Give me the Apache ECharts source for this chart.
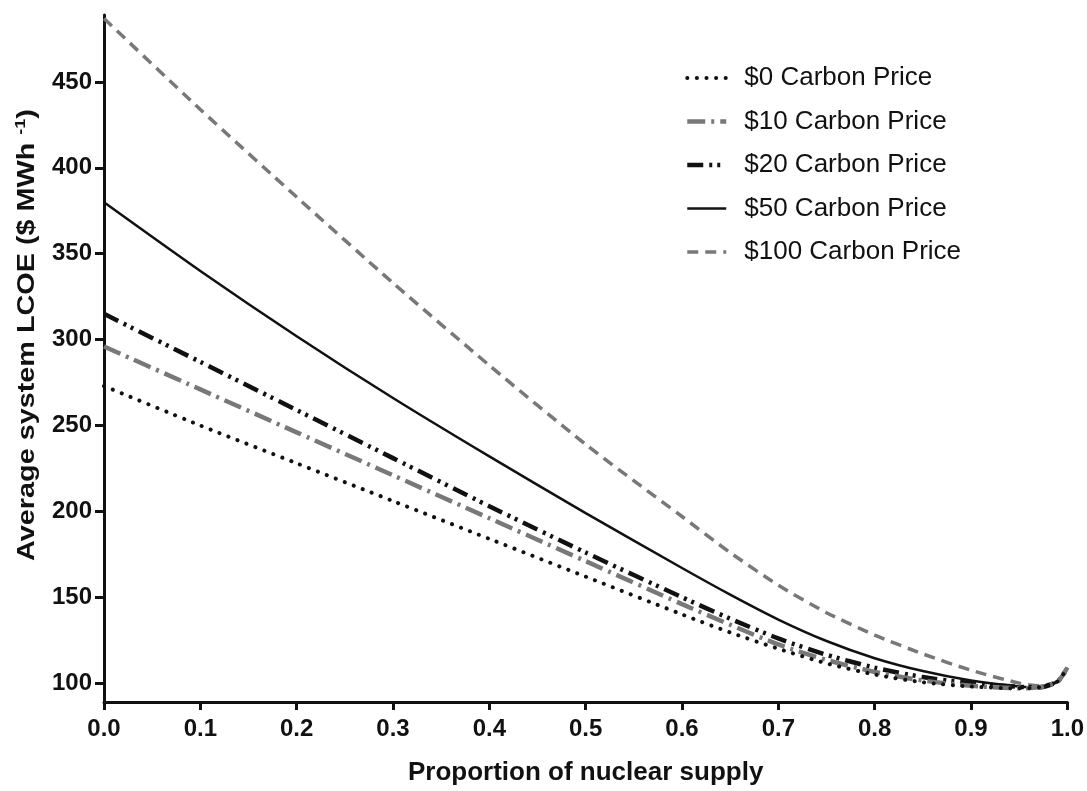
<!DOCTYPE html>
<html>
<head>
<meta charset="utf-8">
<script src="https://cdn.jsdelivr.net/npm/echarts@6/dist/echarts.min.js"></script>
<style>
  html, body { margin: 0; padding: 0; background: #ffffff; }
  #chart { width: 1087px; height: 791px; }
</style>
</head>
<body>
<div id="chart"></div>
<script>
// Proportion of nuclear supply (x) and average system LCOE for each carbon price
const nuclearShare = [0, 0.1, 0.2, 0.3, 0.4, 0.5, 0.6, 0.65, 0.7, 0.75, 0.8, 0.85, 0.9, 0.95, 0.97, 0.99, 1.0];
const carbon0   = [273, 250, 228, 206, 184, 162, 140, 129.5, 120, 111.5, 105, 100.5, 98, 97, 97.5, 101, 109];
const carbon10  = [296, 271, 246, 221, 196, 171, 146, 134, 122.5, 113.5, 106.5, 101.5, 98.5, 97, 97.5, 101, 109];
const carbon20  = [315, 287, 259, 231, 203, 176, 150, 137.5, 126, 116.5, 109, 103.5, 100, 97.8, 97.5, 101, 109];
const carbon50  = [380, 340, 302, 266, 232, 199, 167, 151.5, 137, 124.5, 114.5, 107, 101.5, 98, 97.5, 101, 109];
const carbon100 = [487, 434, 383, 333, 285, 239, 197, 176, 157, 141, 128, 117, 107.5, 100, 98.5, 101, 109];
const seriesNames = ['$0 Carbon Price', '$10 Carbon Price', '$20 Carbon Price', '$50 Carbon Price', '$100 Carbon Price'];
const yTicks = [100, 150, 200, 250, 300, 350, 400, 450];

const FONT = "'Liberation Sans', Arial, sans-serif";
const INK = '#111111';
const GREY = '#787878';

function pairs(values) {
  return nuclearShare.map((x, i) => [x, values[i]]);
}

const lineStyles = [
  { color: INK,  width: 4,   type: [0.1, 9.5], cap: 'round' },
  { color: GREY, width: 4.5, type: [18, 6, 3, 6], cap: 'butt' },
  { color: INK,  width: 4.5, type: [16, 6, 3, 5, 3, 6], cap: 'butt' },
  { color: INK,  width: 2.5, type: 'solid' },
  { color: GREY, width: 3.5, type: [11, 7], cap: 'butt' }
];
const seriesValues = [carbon0, carbon10, carbon20, carbon50, carbon100];

const chart = echarts.init(document.getElementById('chart'), null, { renderer: 'canvas' });

chart.setOption({
  backgroundColor: '#ffffff',
  animation: false,
  grid: { left: 104, right: 19, top: 15, bottom: 89, containLabel: false },
  legend: {
    orient: 'vertical',
    left: 685,
    top: 63,
    padding: 0,
    itemWidth: 39,
    itemHeight: 14,
    itemGap: 13.5,
    itemStyle: { opacity: 0 },
    textStyle: { fontFamily: FONT, fontSize: 26, color: INK, lineHeight: 30, padding: [0, 0, 0, 13] },
    // legend keys drawn with the same stroke weight as their curves
    data: seriesNames.map((name, i) => ({
      name: name,
      lineStyle: { width: lineStyles[i].width }
    }))
  },
  xAxis: {
    type: 'value',
    min: 0,
    max: 1,
    interval: 0.1,
    name: 'Proportion of nuclear supply',
    nameLocation: 'middle',
    nameGap: 58,
    nameTextStyle: { fontFamily: FONT, fontSize: 26, fontWeight: 'bold', color: INK },
    axisLine: { show: true, onZero: false, lineStyle: { color: INK, width: 3 } },
    axisTick: { show: true, inside: false, length: 8, lineStyle: { color: INK, width: 3 } },
    axisLabel: {
      fontFamily: FONT, fontSize: 24, fontWeight: 'bold', color: INK, margin: 15,
      showMinLabel: true, showMaxLabel: true,
      formatter: v => v.toFixed(1)
    },
    splitLine: { show: false }
  },
  yAxis: {
    type: 'value',
    min: 89,
    max: 489,
    axisLine: { show: true, onZero: false, lineStyle: { color: INK, width: 3 } },
    axisTick: { show: true, inside: false, length: 9, customValues: yTicks, lineStyle: { color: INK, width: 3 } },
    axisLabel: {
      fontFamily: FONT, fontSize: 24, fontWeight: 'bold', color: INK, margin: 12,
      customValues: yTicks
    },
    splitLine: { show: false }
  },
  graphic: [{
    type: 'text',
    x: 27,
    y: 335,
    rotation: Math.PI / 2,
    scaleX: 1.2,
    style: {
      text: 'Average system LCOE ($ MWh {sup|-1})',
      font: "bold 24px 'Liberation Sans', Arial, sans-serif",
      fill: INK,
      align: 'center',
      verticalAlign: 'middle',
      rich: {
        sup: { fontSize: 15, fontWeight: 'bold', fontFamily: FONT, fill: INK, verticalAlign: 'top', lineHeight: 28, padding: [0, 0, 12, 0] }
      }
    }
  }],
  series: seriesNames.map((name, i) => ({
    name: name,
    type: 'line',
    data: pairs(seriesValues[i]),
    smooth: 0.25,
    showSymbol: false,
    symbol: 'none',
    lineStyle: lineStyles[i],
    itemStyle: { color: lineStyles[i].color },
    z: 10 - i
  }))
});
</script>
</body>
</html>
